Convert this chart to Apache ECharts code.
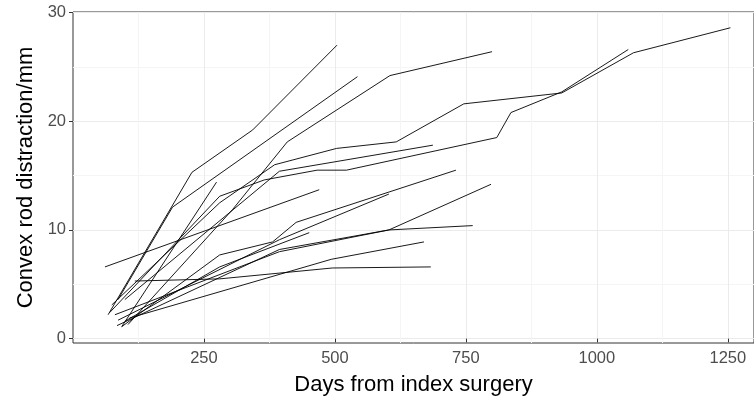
<!DOCTYPE html>
<html>
<head>
<meta charset="utf-8">
<script src="https://cdn.jsdelivr.net/npm/echarts@6/dist/echarts.min.js"></script>
<style>
  html, body { margin: 0; padding: 0; background: #fff; }
  #chart { width: 754px; height: 401px; }
</style>
</head>
<body>
<div id="chart"></div>
<script>
// one array per patient: [days from index surgery, convex rod distraction mm]
var p01 = [[67, 2.2], [227, 15.3], [343, 19.2], [504, 27.0]];
var p02 = [[86, 3.6], [190, 12.1], [543, 24.1]];
var p03 = [[105, 1.3], [305, 11.9], [409, 18.1], [605, 24.2], [800, 26.4]];
var p04 = [[74, 3.1], [280, 12.5], [385, 16.0], [503, 17.5], [617, 18.1], [746, 21.6], [933, 22.6], [1070, 26.3], [1255, 28.6]];
var p05 = [[70, 2.4], [280, 13.1], [365, 14.6], [466, 15.5], [522, 15.5], [809, 18.5], [836, 20.8], [933, 22.7], [1060, 26.6]];
var p06 = [[99, 3.6], [394, 15.4], [687, 17.8]];
var p07 = [[61, 6.6], [470, 13.7]];
var p08 = [[93, 1.1], [280, 7.7], [381, 8.9], [426, 10.7], [731, 15.5]];
var p09 = [[86, 1.7], [394, 9.1], [603, 13.3]];
var p10 = [[99, 1.6], [280, 6.6], [451, 9.75]];
var p11 = [[84, 1.2], [394, 8.2], [603, 10.0], [798, 14.2]];
var p12 = [[80, 2.2], [394, 8.0], [603, 10.0], [763, 10.4]];
var p13 = [[108, 1.9], [493, 7.3], [670, 8.9]];
var p14 = [[118, 5.3], [280, 5.5], [495, 6.5], [683, 6.6]];
var p15 = [[93, 1.1], [274, 14.4]];
var patients = [p01, p02, p03, p04, p05, p06, p07, p08, p09, p10, p11, p12, p13, p14, p15];

var xTicks = [250, 500, 750, 1000, 1250];
var xMinor = [125, 375, 625, 875, 1125];
var yTicks = [0, 10, 20, 30];
var yMinor = [5, 15, 25];

var tickColor = "#333333";
var labelColor = "#4D4D4D";
var font = "Liberation Sans, Arial, sans-serif";

var series = [];
for (var i = 0; i < patients.length; i++) {
    series.push({
        type: "line",
        data: patients[i],
        showSymbol: false,
        symbol: "none",
        silent: true,
        lineStyle: { color: "#000", width: 0.9 },
        xAxisIndex: 0,
        yAxisIndex: 0
    });
}

var plain = function (v) { return String(v); };

var option = {
    animation: false,
    backgroundColor: "#fff",
    grid: {
        left: 73, right: -4, top: 12, bottom: 58,
        show: true, borderColor: tickColor, borderWidth: 1, backgroundColor: "transparent"
    },
    xAxis: [{
        type: "value", min: 0, max: 1300,
        name: "Days from index surgery", nameLocation: "middle", nameGap: 31,
        nameTextStyle: { fontSize: 22, color: "#000", fontFamily: font },
        axisLine: { show: false },
        axisTick: { show: true, length: 4, customValues: xTicks, lineStyle: { color: tickColor } },
        axisLabel: { customValues: xTicks, formatter: plain, fontSize: 16.5, color: labelColor, fontFamily: font, margin: 7 },
        splitLine: { show: true, lineStyle: { color: "#EBEBEB", width: 1 } }
    }, {
        type: "value", min: 0, max: 1300, position: "top",
        axisLine: { show: false },
        axisTick: { show: false, customValues: xMinor },
        axisLabel: { show: false, customValues: xMinor },
        splitLine: { show: true, lineStyle: { color: "#F5F5F5", width: 1 } }
    }],
    yAxis: [{
        type: "value", min: -0.4, max: 30.05,
        name: "Convex rod distraction/mm", nameLocation: "middle", nameGap: 36, nameRotate: 90,
        nameTextStyle: { fontSize: 22, color: "#000", fontFamily: font },
        axisLine: { show: false },
        axisTick: { show: true, length: 4, customValues: yTicks, lineStyle: { color: tickColor } },
        axisLabel: { customValues: yTicks, formatter: plain, fontSize: 16.5, color: labelColor, fontFamily: font, margin: 7 },
        splitLine: { show: true, lineStyle: { color: "#EBEBEB", width: 1 } }
    }, {
        type: "value", min: -0.4, max: 30.05, position: "right",
        axisLine: { show: false },
        axisTick: { show: false, customValues: yMinor },
        axisLabel: { show: false, customValues: yMinor },
        splitLine: { show: true, lineStyle: { color: "#F5F5F5", width: 1 } }
    }],
    series: series
};

var chart = echarts.init(document.getElementById("chart"), null, { renderer: "canvas" });
chart.setOption(option);
</script>
</body>
</html>
